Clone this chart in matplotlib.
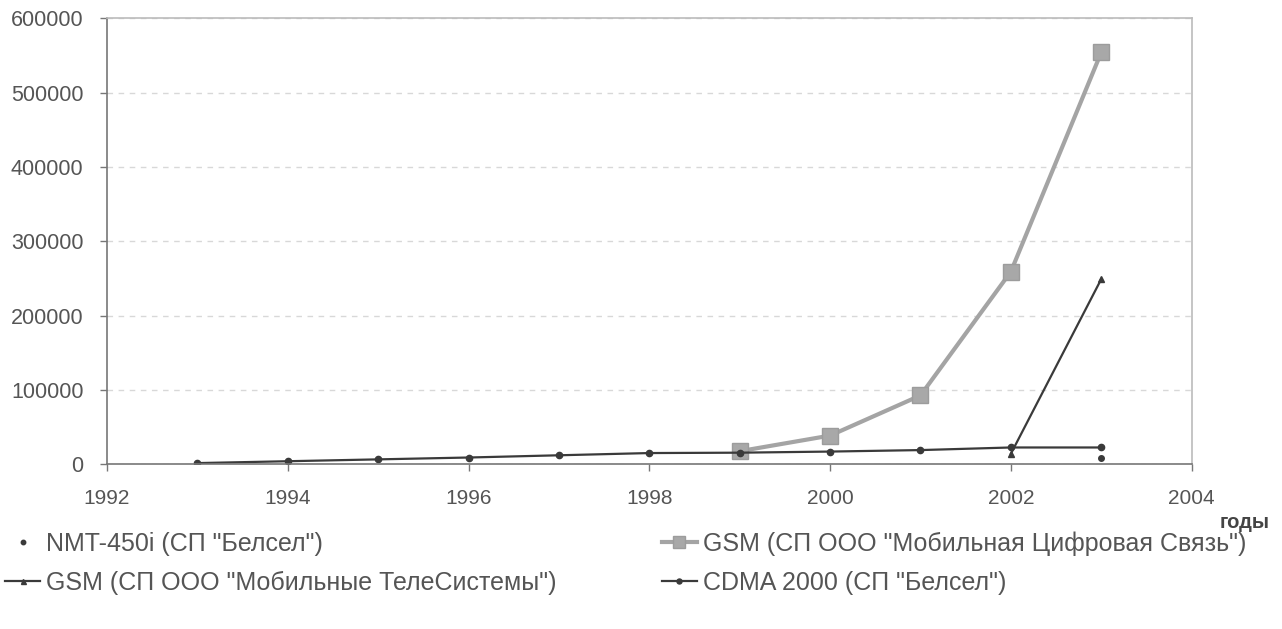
import numpy as np
import matplotlib
matplotlib.use("Agg")
import matplotlib.pyplot as plt

plt.rcParams['font.family'] = ['Liberation Sans', 'DejaVu Sans']

years = [1993, 1994, 1995, 1996, 1997, 1998, 1999, 2000, 2001, 2002, 2003]
nmt = [np.nan] * 10 + [9000]
gsm_mts = [np.nan] * 9 + [14000, 249000]
gsm_mdc = [np.nan] * 6 + [17500, 38500, 92500, 259000, 554000]
cdma = [1500, 4000, 6500, 9000, 12000, 15000, 15500, 17000, 19000, 22500, 22500]

labels = ['NMT-450i (СП "Белсел")',
          'GSM (СП ООО "Мобильные ТелеСистемы")',
          'GSM (СП ООО "Мобильная Цифровая Связь")',
          'CDMA 2000 (СП "Белсел")']
xticks = [1992, 1994, 1996, 1998, 2000, 2002, 2004]
yticks = [0, 100000, 200000, 300000, 400000, 500000, 600000]

fig = plt.figure(figsize=(12.82, 6.29), dpi=100)
ax = fig.add_axes([0.0835, 0.262, 0.846, 0.709])

dark = '#3a3a3a'
txt = '#555555'

h_nmt, = ax.plot(years, nmt, linestyle='none', marker='o', markersize=4, color=dark)
h_mts, = ax.plot(years, gsm_mts, color=dark, linewidth=1.6, marker='^', markersize=4.5)
h_mdc, = ax.plot(years, gsm_mdc, color='#a4a4a4', linewidth=3, marker='s', markersize=11,
                 markerfacecolor='#a8a8a8', markeredgecolor='#9c9c9c')
h_cdma, = ax.plot(years, cdma, color=dark, linewidth=1.6, marker='o', markersize=4.5)

ax.set_xlim(1992, 2004)
ax.set_ylim(0, 600000)
ax.set_xticks(xticks)
ax.set_yticks(yticks)
ax.set_xticklabels([str(t) for t in xticks])
ax.set_yticklabels([str(t) for t in yticks])
ax.tick_params(axis='both', colors='#777777', labelcolor=txt, length=5, width=1)
ax.tick_params(axis='x', pad=13, labelsize=15)
ax.tick_params(axis='y', pad=12, labelsize=15.5)

ax.grid(axis='y', linestyle=(0, (4, 4)), color='#d8d8d8', linewidth=1)
ax.set_axisbelow(True)
for s in ['left', 'bottom']:
    ax.spines[s].set_color('#777777')
    ax.spines[s].set_linewidth(1.2)
for s in ['top', 'right']:
    ax.spines[s].set_color('#bbbbbb')
    ax.spines[s].set_linewidth(1.2)

fig.text(0.99, 0.17, 'годы', ha='right', va='center', fontsize=14.5, fontweight='bold', color='#444444')

leg = fig.legend([h_nmt, h_mts, h_mdc, h_cdma], labels, ncol=2, loc='upper left',
                 bbox_to_anchor=(0.004, 0.155), frameon=False, fontsize=18,
                 labelcolor=txt, handlelength=1.4, handletextpad=0.25,
                 columnspacing=4.2, labelspacing=0.6, markerscale=0.8,
                 borderpad=0.0, borderaxespad=0.0)

fig.savefig('out.png', dpi=100)
